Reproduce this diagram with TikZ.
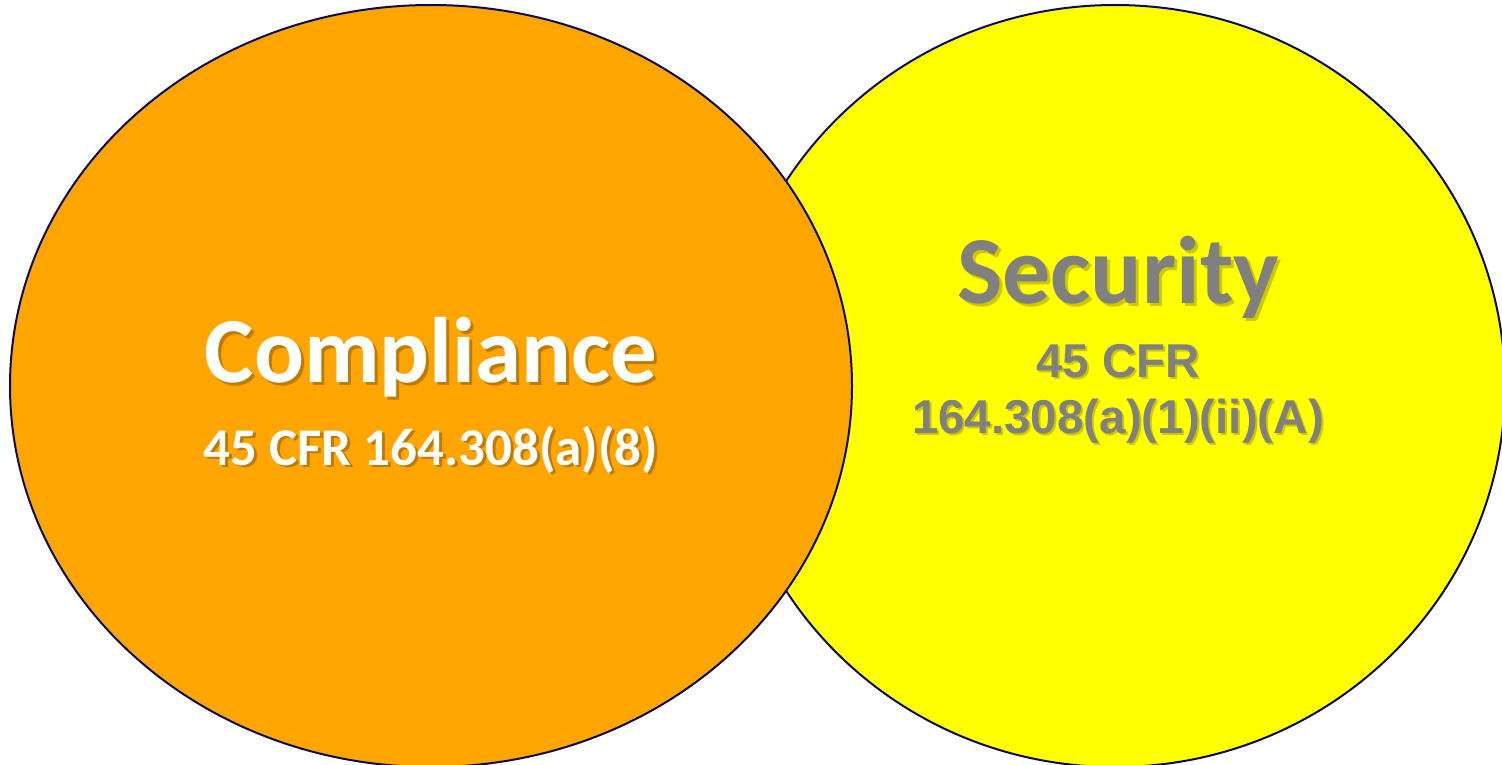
\documentclass[tikz,border=0pt]{standalone}
\usepackage{fontspec}
\setmainfont{Carlito}
\newfontfamily\arialfont{Liberation Sans}
\definecolor{outl}{HTML}{0A0A5A}
\definecolor{orfill}{HTML}{FFA500}
\definecolor{yefill}{HTML}{FFFF00}
\definecolor{txtgray}{HTML}{808080}
\tikzset{
  circ/.style={draw=outl, line width=2pt},
  lbl/.style={anchor=base, inner sep=0pt, font=\bfseries},
  shad/.style={lbl, text=black, text opacity=0.25},
  yshad/.style={lbl, text=olive, text opacity=0.45},
}
\begin{document}
\begin{tikzpicture}[x=1pt,y=-1pt]
\useasboundingbox (0,0) rectangle (1502,765);
\begin{scope}
\clip (0,0) rectangle (1502,765);
\draw[circ, fill=yefill] (1115,386) ellipse [x radius=390, y radius=381];
\draw[circ, fill=orfill] (431,386) ellipse [x radius=421, y radius=381];
\end{scope}
% Compliance
\node[shad, font=\fontsize{93}{100}\selectfont\bfseries] at (434,385) {Compliance};
\node[lbl, text=white, font=\fontsize{93}{100}\selectfont\bfseries] (comp) at (431,382) {Compliance};
\node[shad, font=\fontsize{53}{60}\selectfont\bfseries] at (434,467) {45 CFR 164.308(a)(8)};
\node[lbl, text=white, font=\fontsize{53}{60}\selectfont\bfseries] (compref) at (431,465) {45 CFR 164.308(a)(8)};
% Security
\node[yshad, font=\fontsize{96}{104}\selectfont\bfseries] at (1121,306) {Security};
\node[lbl, text=txtgray, font=\fontsize{96}{104}\selectfont\bfseries] (sec) at (1118,303) {Security};
\node[yshad, font=\arialfont\fontsize{47.5}{54}\selectfont\bfseries] at (1120,379) {45 CFR};
\node[lbl, text=txtgray, font=\arialfont\fontsize{47.5}{54}\selectfont\bfseries] (secref1) at (1118,377) {45 CFR};
\node[yshad, font=\arialfont\fontsize{47.5}{54}\selectfont\bfseries] at (1120,435) {164.308(a)(1)(ii)(A)};
\node[lbl, text=txtgray, font=\arialfont\fontsize{47.5}{54}\selectfont\bfseries] (secref2) at (1118,433) {164.308(a)(1)(ii)(A)};
\end{tikzpicture}
\end{document}
